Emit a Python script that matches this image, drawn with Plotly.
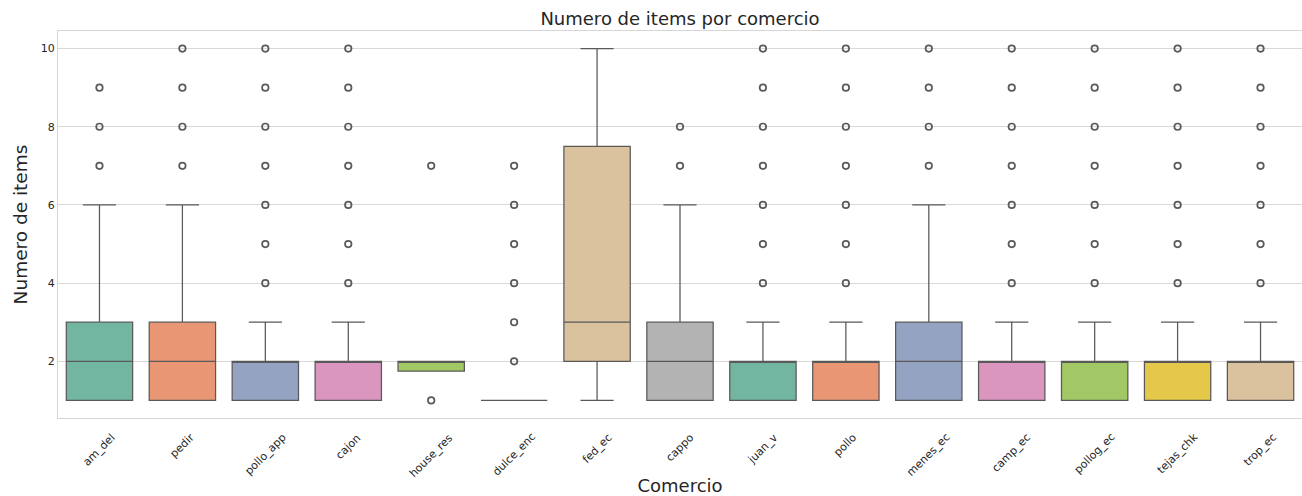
import colorsys
import plotly.graph_objects as go

# Box statistics per store (Numero de items)
comercios = ["am_del", "pedir", "pollo_app", "cajon", "house_res", "dulce_enc", "fed_ec",
             "cappo", "juan_v", "pollo", "menes_ec", "camp_ec", "pollog_ec", "tejas_chk", "trop_ec"]
q1 = [1, 1, 1, 1, 1.75, 1, 2, 1, 1, 1, 1, 1, 1, 1, 1]
mediana = [2, 2, 2, 2, 2, 1, 3, 2, 2, 2, 2, 2, 2, 2, 2]
q3 = [3, 3, 2, 2, 2, 1, 7.5, 3, 2, 2, 3, 2, 2, 2, 2]
bigote_inf = [1, 1, 1, 1, 2, 1, 1, 1, 1, 1, 1, 1, 1, 1, 1]
bigote_sup = [6, 6, 3, 3, 2, 1, 10, 6, 3, 3, 6, 3, 3, 3, 3]
atipicos = [
    [7, 8, 9],
    [7, 8, 9, 10],
    [4, 5, 6, 7, 8, 9, 10],
    [4, 5, 6, 7, 8, 9, 10],
    [1, 7],
    [2, 3, 4, 5, 6, 7],
    [],
    [7, 8],
    [4, 5, 6, 7, 8, 9, 10],
    [4, 5, 6, 7, 8, 9, 10],
    [7, 8, 9, 10],
    [4, 5, 6, 7, 8, 9, 10],
    [4, 5, 6, 7, 8, 9, 10],
    [4, 5, 6, 7, 8, 9, 10],
    [4, 5, 6, 7, 8, 9, 10],
]
y_ticks = [2, 4, 6, 8, 10]

# Set2 palette, desaturated like seaborn boxes
set2 = ["#66c2a5", "#fc8d62", "#8da0cb", "#e78ac3", "#a6d854", "#ffd92f", "#e5c494", "#b3b3b3"]


def desaturate(hex_color, prop=0.75):
    r, g, b = (int(hex_color[i:i + 2], 16) / 255 for i in (1, 3, 5))
    h, l, s = colorsys.rgb_to_hls(r, g, b)
    r, g, b = colorsys.hls_to_rgb(h, l, s * prop)
    return "#%02x%02x%02x" % (round(r * 255), round(g * 255), round(b * 255))


LINE = "#595959"
TEXT = "#262626"
FONT = "DejaVu Sans"

fig = go.Figure()
for i, c in enumerate(comercios):
    fig.add_trace(go.Box(
        x=[c], q1=[q1[i]], median=[mediana[i]], q3=[q3[i]],
        lowerfence=[bigote_inf[i]], upperfence=[bigote_sup[i]],
        width=0.8, whiskerwidth=0.5, boxpoints=False,
        fillcolor=desaturate(set2[i % len(set2)]),
        line=dict(color=LINE, width=1.25),
        showlegend=False, hoverinfo="skip",
    ))

ox, oy = [], []
for c, vals in zip(comercios, atipicos):
    ox += [c] * len(vals)
    oy += vals
fig.add_trace(go.Scatter(
    x=ox, y=oy, mode="markers", showlegend=False,
    marker=dict(symbol="circle-open", size=6.5, color=LINE, line=dict(width=1.7, color=LINE)),
))

# Rotated category labels, centred under each tick
for c in comercios:
    fig.add_annotation(
        x=c, xref="x", y=0, yref="paper", yshift=-10,
        text=c, textangle=-45, showarrow=False,
        xanchor="center", yanchor="top",
        font=dict(family=FONT, size=11, color=TEXT),
    )

fig.update_layout(
    width=1302, height=496,
    margin=dict(l=58, r=0, t=31, b=78),
    paper_bgcolor="white", plot_bgcolor="white",
    font=dict(family=FONT, color=TEXT),
    title=dict(text="Numero de items por comercio", x=0.5, xanchor="center",
               y=1 - 19 / 496, yanchor="middle", xref="paper",
               font=dict(family=FONT, size=18, color=TEXT)),
    xaxis=dict(
        type="category", categoryorder="array", categoryarray=comercios,
        range=[-0.5, 14.5], showgrid=False, showticklabels=False, ticks="",
        showline=True, linecolor="#d6d6d6", linewidth=1.2, mirror=True,
        title=dict(text="Comercio", font=dict(family=FONT, size=18, color=TEXT), standoff=63),
        zeroline=False,
    ),
    yaxis=dict(
        range=[0.55, 10.45], tickvals=y_ticks, ticktext=[str(v) for v in y_ticks],
        showgrid=True, gridcolor="#d9d9d9", gridwidth=1.2, zeroline=False,
        showline=True, linecolor="#d6d6d6", linewidth=1.2, mirror=True,
        tickfont=dict(family=FONT, size=11, color=TEXT), ticks="",
        title=dict(text="Numero de items", font=dict(family=FONT, size=18.5, color=TEXT), standoff=8),
    ),
)

fig.write_html("out.html")
